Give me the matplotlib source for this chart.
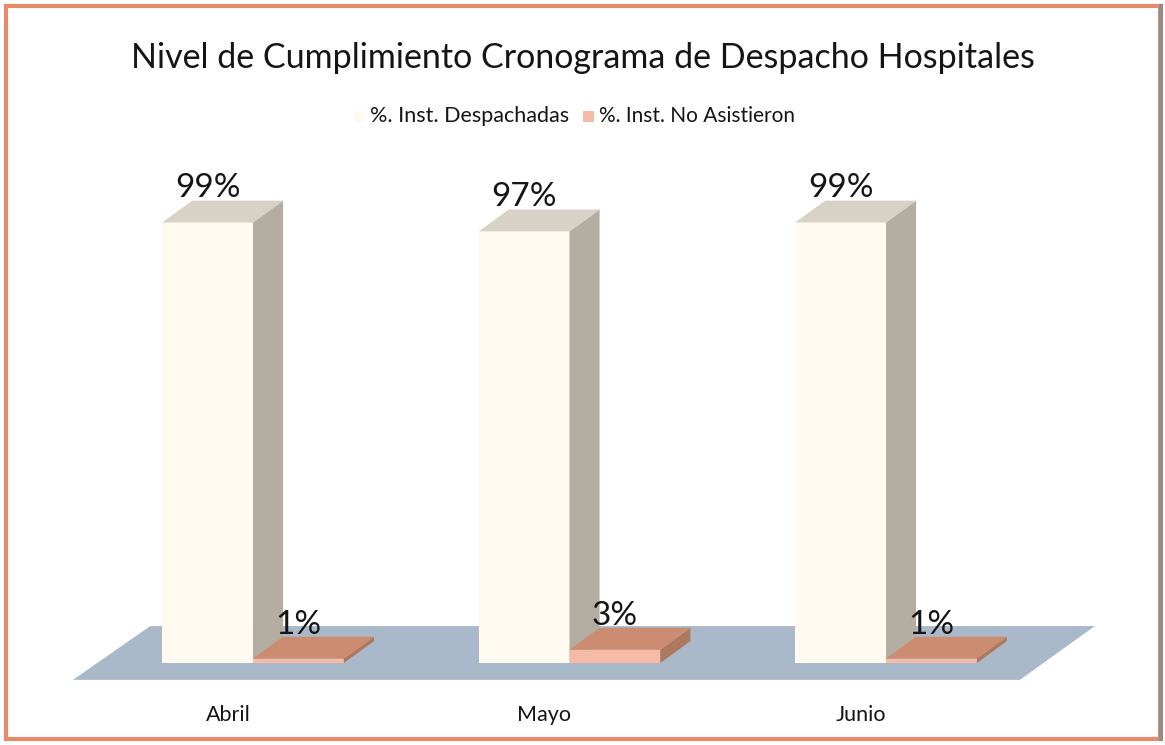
import matplotlib.pyplot as plt
from matplotlib.patches import Polygon, Rectangle
from matplotlib.lines import Line2D

# data
months = ["Abril", "Mayo", "Junio"]
despachadas = [99, 97, 99]
no_asistieron = [1, 3, 1]
series_names = ["%. Inst. Despachadas", "%. Inst. No Asistieron"]

plt.rcParams["font.family"] = ["Lato", "DejaVu Sans"]

# colours of each series: front, top, side
cream = ("#FEFAF0", "#D8D1C5", "#B4ADA1")
salmon = ("#F6BBA6", "#CC8C72", "#B0775F")
floor_color = "#AAB9C9"
border_color = "#E58A6C"
text_color = "#151515"

# bar geometry in data units
w = 0.287
dx = 0.095
dy = 4.9


def bar3d(ax, x_left, h, colors, z):
    front, top, side = colors
    ax.bar(x_left, h, width=w, align="edge", color=front, zorder=z, linewidth=0)
    xr = x_left + w
    ax.add_patch(Polygon([(xr, 0), (xr + dx, dy), (xr + dx, h + dy), (xr, h)],
                         closed=True, facecolor=side, edgecolor="none", zorder=z))
    ax.add_patch(Polygon([(x_left, h), (xr, h), (xr + dx, h + dy), (x_left + dx, h + dy)],
                         closed=True, facecolor=top, edgecolor="none", zorder=z))


fig = plt.figure(figsize=(11.65, 7.45), dpi=100)
ax = fig.add_axes([0, 0, 1, 1])
ax.set_xlim(-0.7994, 2.8815)
ax.set_ylim(-18.43, 148.99)
ax.axis("off")

# floor
ax.add_patch(Polygon([(-0.569, -3.8), (2.423, -3.8), (2.66, 8.3), (-0.325, 8.3)],
                     closed=True, facecolor=floor_color, edgecolor="none", zorder=0))

for i, m in enumerate(months):
    bar3d(ax, i - w, despachadas[i], cream, 2)
    bar3d(ax, i, no_asistieron[i], salmon, 3)
    ax.text(i - w / 2, despachadas[i] + 7.7, f"{despachadas[i]}%", ha="center", va="center",
            fontsize=24, color=text_color, zorder=5)
    ax.text(i + w / 2, no_asistieron[i] + 7.5, f"{no_asistieron[i]}%", ha="center", va="center",
            fontsize=24, color=text_color, zorder=5)
    ax.text(i - w / 2 + 0.064, -11.6, m, ha="center", va="center", fontsize=15.5, color=text_color)

# title and legend
fig.text(0.5, 1 - 58 / 745, "Nivel de Cumplimiento Cronograma de Despacho Hospitales",
         ha="center", va="center", fontsize=24.5, color=text_color)
fig.patches.append(Rectangle((354 / 1165, 1 - 122 / 745), 11 / 1165, 11 / 745,
                             transform=fig.transFigure, facecolor=cream[0], edgecolor="none"))
fig.text(370 / 1165, 1 - 116 / 745, series_names[0], ha="left", va="center", fontsize=15.5,
         color=text_color)
fig.patches.append(Rectangle((583 / 1165, 1 - 122 / 745), 11 / 1165, 11 / 745,
                             transform=fig.transFigure, facecolor=salmon[0], edgecolor="none"))
fig.text(599 / 1165, 1 - 116 / 745, series_names[1], ha="left", va="center", fontsize=15,
         color=text_color)

# orange frame around the chart, grey shadow on the right
fig.patches.append(Rectangle((6 / 1165, 6 / 745), 1154 / 1165, 733 / 745,
                             transform=fig.transFigure, facecolor="none",
                             edgecolor=border_color, linewidth=3))
fig.lines.append(Line2D([1161 / 1165, 1161 / 1165], [6 / 745, 739 / 745],
                        transform=fig.transFigure, color="#8E8E8E", linewidth=3))

fig.savefig("out.png", dpi=100)
